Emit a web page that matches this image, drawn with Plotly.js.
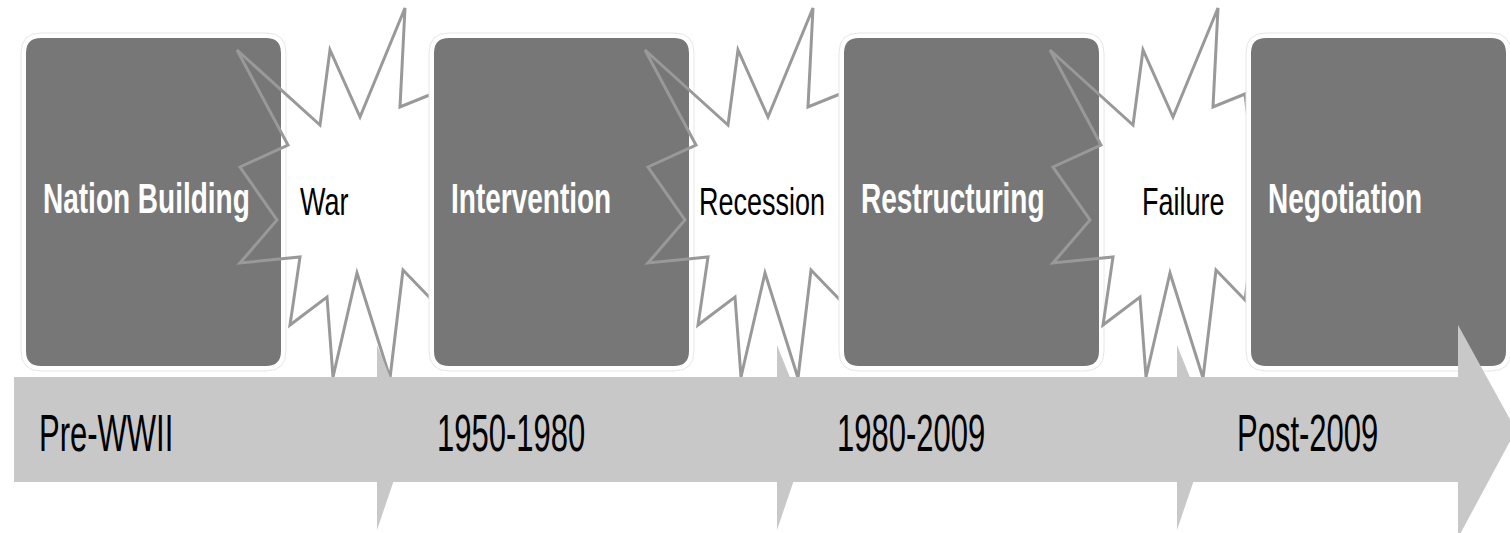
<!DOCTYPE html>
<html>
<head>
<meta charset="utf-8">
<script src="https://cdn.plot.ly/plotly-3.0.1.min.js"></script>
<style>html,body{margin:0;padding:0;background:#fff;}#chart{width:1510px;height:533px;}</style>
</head>
<body>
<div id="chart"></div>
<script>
// ---- content ----
const phases  = ["Nation Building", "Intervention", "Restructuring", "Negotiation"];
const events  = ["War", "Recession", "Failure"];
const periods = ["Pre-WWII", "1950-1980", "1980-2009", "Post-2009"];

// ---- layout constants (pixel space) ----
const boxLeft = [25, 433, 843, 1250];
const boxW = 257, boxTop = 37, boxBottom = 367, boxR = 16;
const starOffset = [0, 408, 813];
const eventLabelX = [298, 697, 1140];
const periodLabelX = [37, 435, 835, 1235];
const headX = [377, 777, 1177];
const starPts = [[237,50],[320,125],[330,50],[360,117],[405,8],[400,107],[432,94],[445,200],[432,300],
  [403,270],[390,378],[357,273],[333,377],[327,297],[290,325],[300,257],[240,263],[277,220],[240,167],[288,145]];

function rr(x0,y0,x1,y1,r){
  return `M${x0+r},${y0} L${x1-r},${y0} Q${x1},${y0} ${x1},${y0+r} L${x1},${y1-r} Q${x1},${y1} ${x1-r},${y1} L${x0+r},${y1} Q${x0},${y1} ${x0},${y1-r} L${x0},${y0+r} Q${x0},${y0} ${x0+r},${y0} Z`;
}
function poly(pts){ return 'M' + pts.map(p => p[0]+','+p[1]).join(' L') + ' Z'; }

const shapes = [];
phases.forEach((p, i) => {
  const x0 = boxLeft[i], x1 = x0 + boxW;
  shapes.push({type:'path', path: rr(x0-4, boxTop-4, x1+4, boxBottom+4, boxR+4), fillcolor:'#ffffff', line:{color:'#e6e6e6', width:1}, xref:'x', yref:'y'});
  shapes.push({type:'path', path: rr(x0, boxTop, x1, boxBottom, boxR), fillcolor:'#777777', line:{color:'#ffffff', width:2}, xref:'x', yref:'y'});
  if (i < events.length) {
    const off = starOffset[i];
    shapes.push({type:'path', path: poly(starPts.map(q => [q[0]+off, q[1]])), fillcolor:'rgba(0,0,0,0)', line:{color:'#999999', width:3}, xref:'x', yref:'y'});
  }
});
// timeline band
const bandTop = 377, bandBot = 482, bandMid = 430;
shapes.push({type:'path', path: poly([[14,bandTop],[1460,bandTop],[1460,bandBot],[14,bandBot]]), fillcolor:'#c8c8c8', line:{width:0}, xref:'x', yref:'y'});
headX.forEach(h => {
  shapes.push({type:'path', path: poly([[h,345],[h+34,bandMid],[h,530]]), fillcolor:'#c8c8c8', line:{width:0}, xref:'x', yref:'y'});
});
shapes.push({type:'path', path: poly([[1458,325],[1516,bandMid],[1458,538]]), fillcolor:'#c8c8c8', line:{width:0}, xref:'x', yref:'y'});

const FONT = '"Liberation Sans", Arial, sans-serif';
const ann = [];
const stretch = [];  // vertical stretch per annotation (Calibri-like tall text)
phases.forEach((p, i) => { ann.push({x: boxLeft[i]+16, y: 198, text: '<b>'+p+'</b>', showarrow:false, xanchor:'left', yanchor:'middle', font:{family: FONT, size: 28, color:'#ffffff'}}); stretch.push(1.55); });
events.forEach((e, i) => { ann.push({x: eventLabelX[i], y: 202, text: e, showarrow:false, xanchor:'left', yanchor:'middle', font:{family: FONT, size: 27, color:'#000000'}}); stretch.push(1.45); });
periods.forEach((t, i) => { ann.push({x: periodLabelX[i], y: 433, text: t, showarrow:false, xanchor:'left', yanchor:'middle', font:{family: FONT, size: 31, color:'#000000'}}); stretch.push(1.65); });

Plotly.newPlot('chart', [], {
  width: 1510, height: 533,
  margin: {l:0, r:0, t:0, b:0},
  paper_bgcolor: '#ffffff', plot_bgcolor: '#ffffff',
  xaxis: {range:[0,1510], visible:false, fixedrange:true},
  yaxis: {range:[533,0], visible:false, fixedrange:true},
  shapes: shapes, annotations: ann, showlegend:false
}, {displayModeBar:false, staticPlot:true}).then(gd => {
  const texts = gd.querySelectorAll('.annotation .annotation-text');
  texts.forEach((t, k) => {
    const sy = stretch[k] || 1;
    const b = t.getBBox();
    const cy = b.y + b.height / 2;
    const prev = t.getAttribute('transform') || '';
    t.setAttribute('transform', `translate(0,${cy}) scale(1,${sy}) translate(0,${-cy}) ${prev}`);
  });
});
</script>
</body>
</html>
